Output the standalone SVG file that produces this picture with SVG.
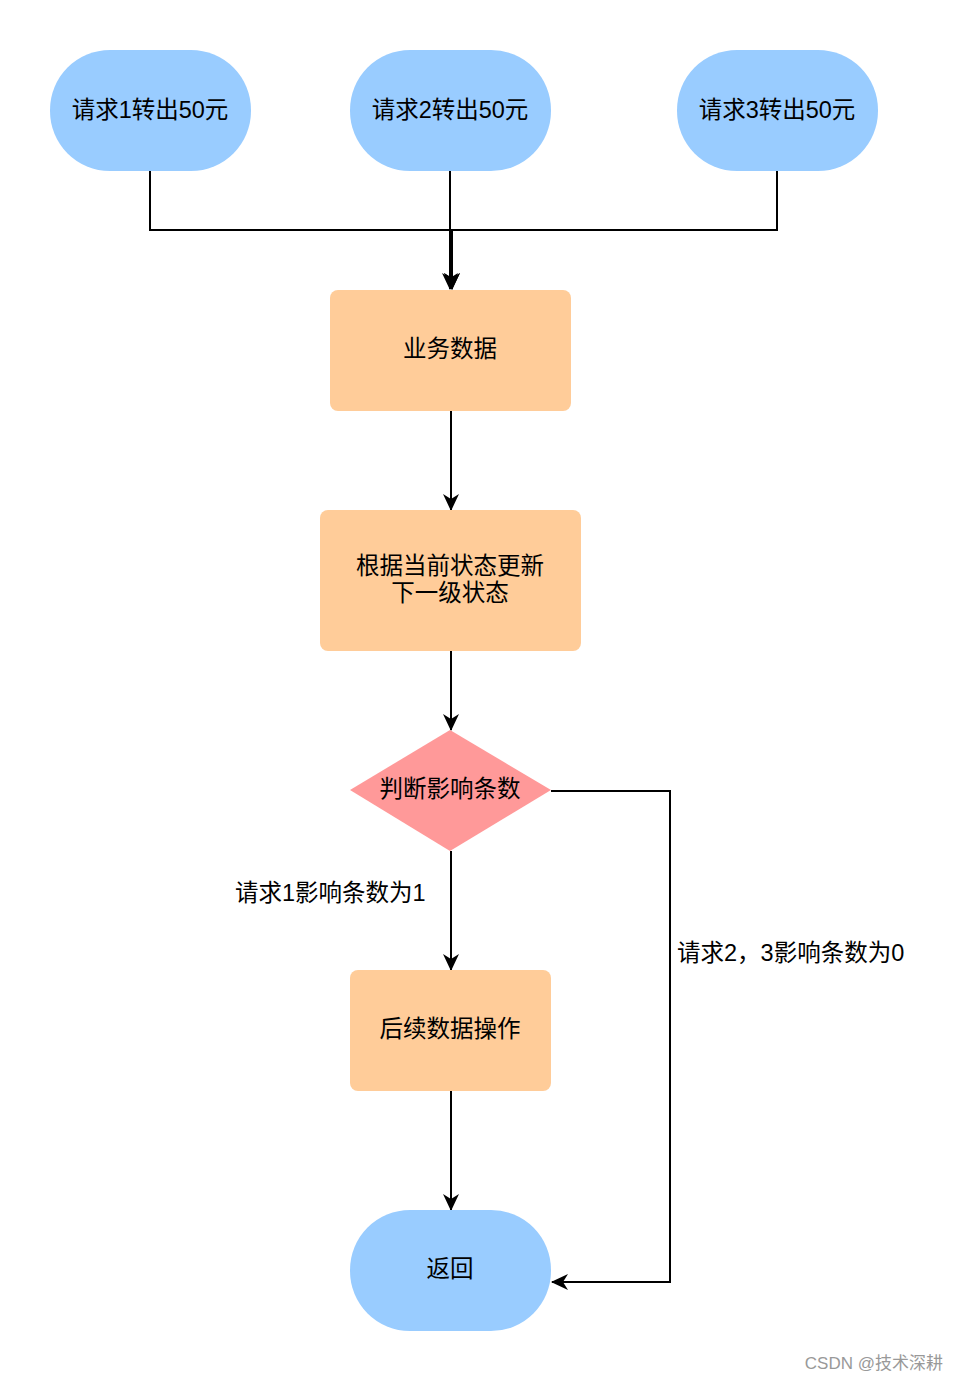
<svg xmlns="http://www.w3.org/2000/svg" width="958" height="1382" viewBox="0 0 958 1382">
<style>
.pill{fill:#99CCFF;}
.box{fill:#FFCC99;}
.dia{fill:#FF9999;}
.t{font-family:"Liberation Sans","Noto Sans CJK SC",sans-serif;font-size:23.5px;fill:#000;text-anchor:middle;dominant-baseline:central;}
.lbl{font-family:"Liberation Sans","Noto Sans CJK SC",sans-serif;font-size:23.5px;fill:#000;dominant-baseline:central;}
.wm{font-family:"Liberation Sans","Noto Sans CJK SC",sans-serif;font-size:17px;fill:#999;text-anchor:end;dominant-baseline:central;}
.e{fill:none;stroke:#000;stroke-width:2;}
</style>
<defs>
<marker id="arr" viewBox="0 0 17 16" refX="16" refY="8" markerWidth="17" markerHeight="16" markerUnits="userSpaceOnUse" orient="auto">
<path d="M0,0 L17,8 L0,16 L5,8 z" fill="#000"/>
</marker>
</defs>
<g id="connectors">
<path class="e" d="M150,171 V230 H452 V289" marker-end="url(#arr)"/>
<path class="e" d="M777,171 V230 H452 V289" marker-end="url(#arr)"/>
<path class="e" d="M450,171 V289" marker-end="url(#arr)"/>
<path class="e" d="M451,411 V510" marker-end="url(#arr)"/>
<path class="e" d="M451,651 V730" marker-end="url(#arr)"/>
<path class="e" d="M451,851 V970" marker-end="url(#arr)"/>
<path class="e" d="M451,1091 V1210" marker-end="url(#arr)"/>
<path class="e" d="M551,791 H670 V1282 H552" marker-end="url(#arr)"/>
<text class="lbl" x="235" y="893">请求1影响条数为1</text>
<text class="lbl" x="677" y="953">请求2，3影响条数为0</text>
</g>
<g id="n1"><rect class="pill" x="50" y="50" width="201" height="121" rx="60" ry="60"/><text class="t" x="150" y="110">请求1转出50元</text></g>
<g id="n2"><rect class="pill" x="350" y="50" width="201" height="121" rx="60" ry="60"/><text class="t" x="450" y="110">请求2转出50元</text></g>
<g id="n3"><rect class="pill" x="677" y="50" width="201" height="121" rx="60" ry="60"/><text class="t" x="777" y="110">请求3转出50元</text></g>
<g id="n4"><rect class="box" x="330" y="290" width="241" height="121" rx="8" ry="8"/><text class="t" x="450" y="349">业务数据</text></g>
<g id="n5"><rect class="box" x="320" y="510" width="261" height="141" rx="8" ry="8"/><text class="t" x="450" y="566">根据当前状态更新</text><text class="t" x="450" y="593">下一级状态</text></g>
<g id="n6"><polygon class="dia" points="450,730 551,790 450,851 350,790"/><text class="t" x="450" y="789">判断影响条数</text></g>
<g id="n7"><rect class="box" x="350" y="970" width="201" height="121" rx="8" ry="8"/><text class="t" x="450" y="1029">后续数据操作</text></g>
<g id="n8"><rect class="pill" x="350" y="1210" width="201" height="121" rx="60" ry="60"/><text class="t" x="450" y="1269">返回</text></g>
<text class="wm" x="943" y="1363">CSDN @技术深耕</text>
</svg>
